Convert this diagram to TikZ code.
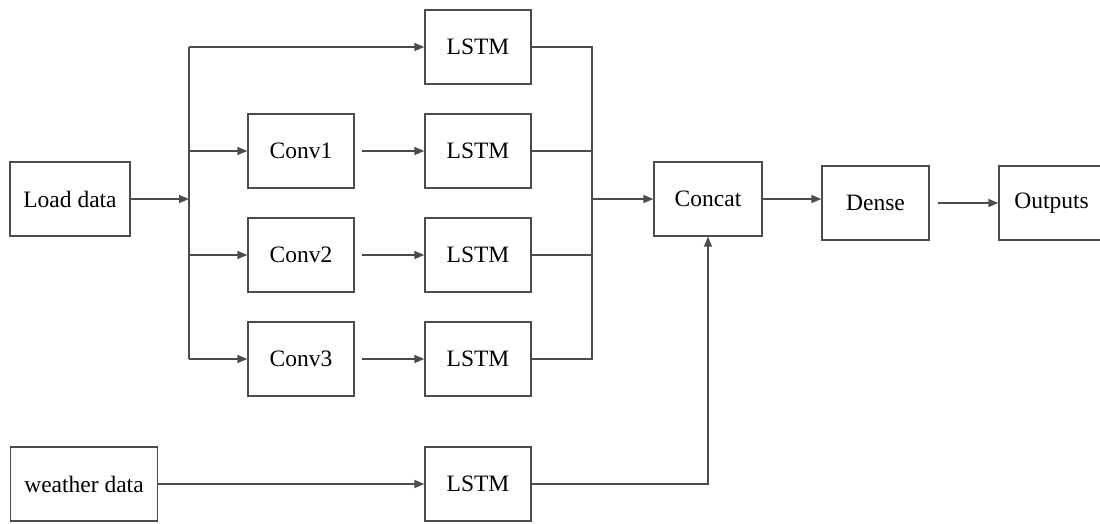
\documentclass[tikz,border=0pt]{standalone}
\usepackage{fontspec}
\setmainfont{Liberation Serif}
\usetikzlibrary{arrows.meta}
\begin{document}
\begin{tikzpicture}[x=1pt,y=-1pt,
  box/.style={draw=black!70,line width=1.3pt,minimum height=74pt,inner sep=0pt,
    font=\fontsize{23.5}{28}\selectfont,text=black},
  ln/.style={draw=black!70,line width=1.3pt},
  arr/.style={ln,-{Triangle[length=10pt,width=8pt]}}]
\useasboundingbox (0,0) rectangle (1100,523);
\node[box,minimum width=120pt] (load) at (70,199) {Load data};
\node[box,minimum width=147pt] (wea) at (84,484) {weather data};
\node[box,minimum width=106pt] (lstm0) at (478,47) {LSTM};
\node[box,minimum width=106pt] (conv1) at (301,151) {Conv1};
\node[box,minimum width=106pt] (lstm1) at (478,151) {LSTM};
\node[box,minimum width=106pt] (conv2) at (301,255) {Conv2};
\node[box,minimum width=106pt] (lstm2) at (478,255) {LSTM};
\node[box,minimum width=106pt] (conv3) at (301,359) {Conv3};
\node[box,minimum width=106pt] (lstm3) at (478,359) {LSTM};
\node[box,minimum width=106pt] (lstm4) at (478,484) {LSTM};
\node[box,minimum width=108pt] (concat) at (708,199) {Concat};
\node[box,minimum width=107pt] (dense) at (875.5,203) {Dense};
\node[box,minimum width=105pt] (out) at (1051.5,203) {Outputs};
% split
\coordinate (sTop) at (189,47);
\coordinate (sBot) at (189,359);
\coordinate (split) at (189,199);
\draw[ln] (sTop) -- (sBot);
\draw[arr] (load.east) -- (split);
\draw[arr] (sTop) -- (lstm0.west);
\draw[arr] (sTop |- conv1) -- (conv1.west);
\draw[arr] (sTop |- conv2) -- (conv2.west);
\draw[arr] (sBot) -- (conv3.west);
\draw[arr] ([xshift=7pt]conv1.east) -- (lstm1.west);
\draw[arr] ([xshift=7pt]conv2.east) -- (lstm2.west);
\draw[arr] ([xshift=7pt]conv3.east) -- (lstm3.west);
% merge
\coordinate (mTop) at (592,47);
\coordinate (mBot) at (592,359);
\draw[ln] (lstm0.east) -- (mTop) -- (mBot) -- (lstm3.east);
\draw[ln] (lstm1.east) -- (lstm1.east -| mTop);
\draw[ln] (lstm2.east) -- (lstm2.east -| mTop);
\draw[arr] (mTop |- concat) -- (concat.west);
% weather
\draw[arr] (wea.east) -- (lstm4.west);
\draw[arr] (lstm4.east) -| (concat.south);
% output chain
\draw[arr] (concat.east) -- (concat.east -| dense.west);
\draw[arr] ([xshift=8pt]dense.east) -- (out.west);
\end{tikzpicture}
\end{document}
